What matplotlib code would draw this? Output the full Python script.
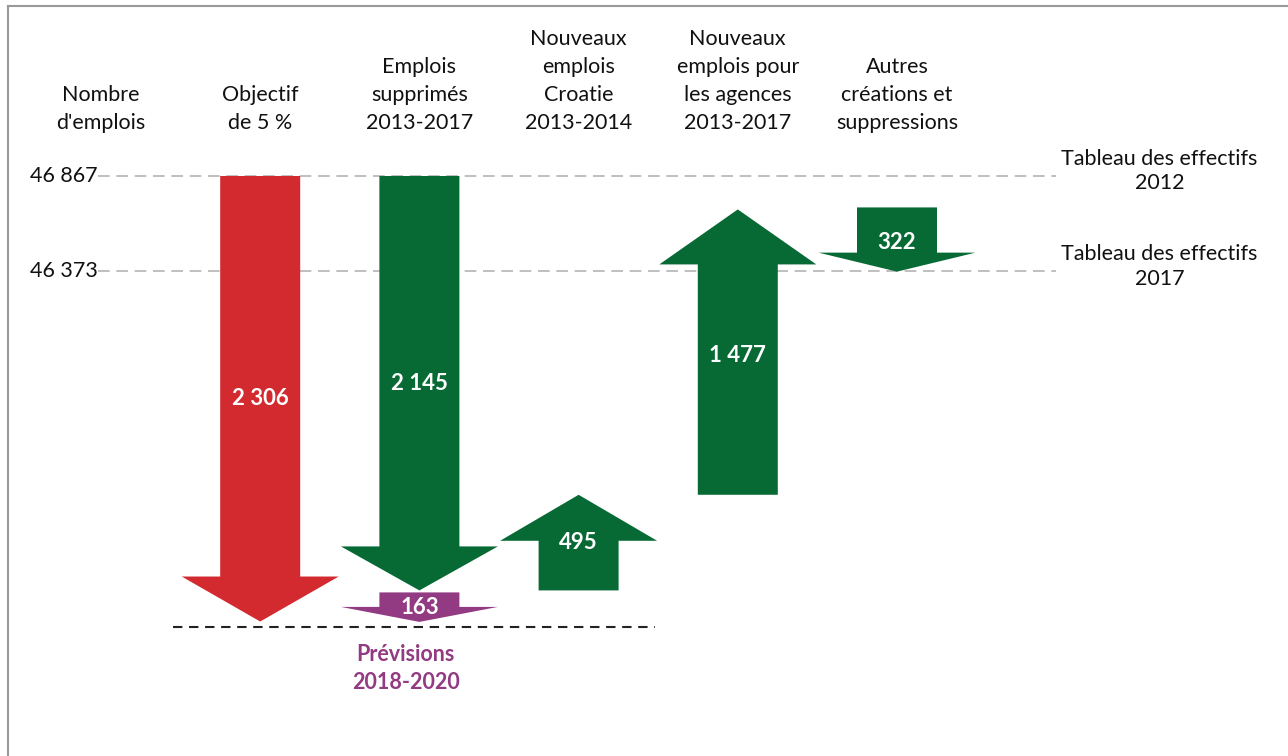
import matplotlib
matplotlib.use("Agg")
import matplotlib.pyplot as plt
from matplotlib.patches import Polygon
from matplotlib.lines import Line2D
from matplotlib.transforms import ScaledTranslation

plt.rcParams['font.family'] = ['Lato', 'DejaVu Sans']

# ---- data -------------------------------------------------------------
start_level = 46867          # Tableau des effectifs 2012
end_level = 46373            # Tableau des effectifs 2017
header_labels = [
    "Nombre\nd'emplois",
    "Objectif\nde 5 %",
    "Emplois\nsupprimés\n2013-2017",
    "Nouveaux\nemplois\nCroatie\n2013-2014",
    "Nouveaux\nemplois pour\nles agences\n2013-2017",
    "Autres\ncréations et\nsuppressions",
]
tick_values = [46867, 46373]
tick_labels = ["46 867", "46 373"]
right_labels = ["Tableau des effectifs\n2012", "Tableau des effectifs\n2017"]

objective_cut = 2306         # objectif de 5 %
jobs_cut = 2145              # emplois supprimés 2013-2017
forecast_cut = 163           # prévisions 2018-2020
croatia_new = 495            # nouveaux emplois Croatie
agencies_new = 1477          # nouveaux emplois pour les agences
other_net = 322              # autres créations et suppressions

# ---- styles -----------------------------------------------------------
RED = "#d32a30"
GREEN = "#076a35"
PURPLE = "#923b82"
GREY = "#b4b4b4"

W, H, DPI = 1288, 756, 100
fig = plt.figure(figsize=(W / DPI, H / DPI), dpi=DPI)
ax = fig.add_axes([0, 0, 1, 1])

px_per_unit = 0.1932
x0_px, col_px = 101, 159.2
top_px = 176
ax.set_xlim(-x0_px / col_px, (W - x0_px) / col_px)
ax.set_ylim(start_level - (H - top_px) / px_per_unit,
            start_level + top_px / px_per_unit)
ax.axis('off')

shaft_w = 80 / col_px
head_w = 157 / col_px


def arrow(xc, y_from, y_to, color, head_px, label, label_dy=0):
    head = head_px / px_per_unit
    sgn = 1 if y_to > y_from else -1
    yb = y_to - sgn * head
    pts = [
        (xc - shaft_w / 2, y_from), (xc + shaft_w / 2, y_from),
        (xc + shaft_w / 2, yb), (xc + head_w / 2, yb),
        (xc, y_to),
        (xc - head_w / 2, yb), (xc - shaft_w / 2, yb),
    ]
    ax.add_patch(Polygon(pts, closed=True, facecolor=color,
                         edgecolor='none', zorder=3))
    ax.text(xc, (y_from + y_to) / 2 + label_dy / px_per_unit, label,
            ha='center', va='center', color='white', fontsize=16,
            fontweight='bold', zorder=4)


def fmt(v):
    return f"{v:,}".replace(",", " ")


# reference grid lines
for v in tick_values:
    ax.plot([-0.02, 6.0], [v, v], color=GREY, lw=1.2,
            dashes=(7, 4), zorder=1)
for v, t in zip(tick_values, tick_labels):
    ax.text(-0.02, v, t, ha='right', va='center', fontsize=15.5,
            color='#111111')
for v, t in zip(tick_values, right_labels):
    ax.text(6.65, v + 5 / px_per_unit, t, ha='center', va='center',
            fontsize=15.5, color='#111111', linespacing=1.3)

# column headers
for i, lab in enumerate(header_labels):
    ax.text(i, start_level + 43 / px_per_unit, lab, ha='center',
            va='bottom', fontsize=15.5, color='#111111', linespacing=1.5)

# arrows
lvl = start_level
arrow(1, lvl, lvl - objective_cut, RED, 45, fmt(objective_cut))
arrow(2, lvl, lvl - jobs_cut, GREEN, 44, fmt(jobs_cut))
lvl -= jobs_cut
arrow(2, lvl - 2 / px_per_unit, lvl - forecast_cut, PURPLE, 15,
      fmt(forecast_cut))
arrow(3, lvl, lvl + croatia_new, GREEN, 46, fmt(croatia_new))
lvl += croatia_new
arrow(4, lvl, lvl + agencies_new, GREEN, 55, fmt(agencies_new), label_dy=-3)
lvl += agencies_new
arrow(5, lvl + 2 / px_per_unit, lvl - other_net, GREEN, 19, fmt(other_net),
      label_dy=-3)

# forecast baseline
target = start_level - objective_cut
off = ScaledTranslation(0, -5 / DPI, fig.dpi_scale_trans)
ax.add_line(Line2D([0.45, 3.48], [target, target], color='#222222',
                   lw=1.5, dashes=(4.5, 3.2), transform=ax.transData + off))
ax.text(1.915, target - 47 / px_per_unit, "Prévisions\n2018-2020",
        ha='center', va='center', color=PURPLE, fontsize=15.5,
        fontweight='bold', linespacing=1.45)

# frame on the left and top edges
fig.add_artist(Line2D([8 / W, 8 / W], [0, 1 - 6 / H], color='#999999',
                      lw=1.5, transform=fig.transFigure))
fig.add_artist(Line2D([8 / W, 1], [1 - 6 / H, 1 - 6 / H], color='#999999',
                      lw=1.5, transform=fig.transFigure))

fig.savefig("out.png", dpi=DPI)
